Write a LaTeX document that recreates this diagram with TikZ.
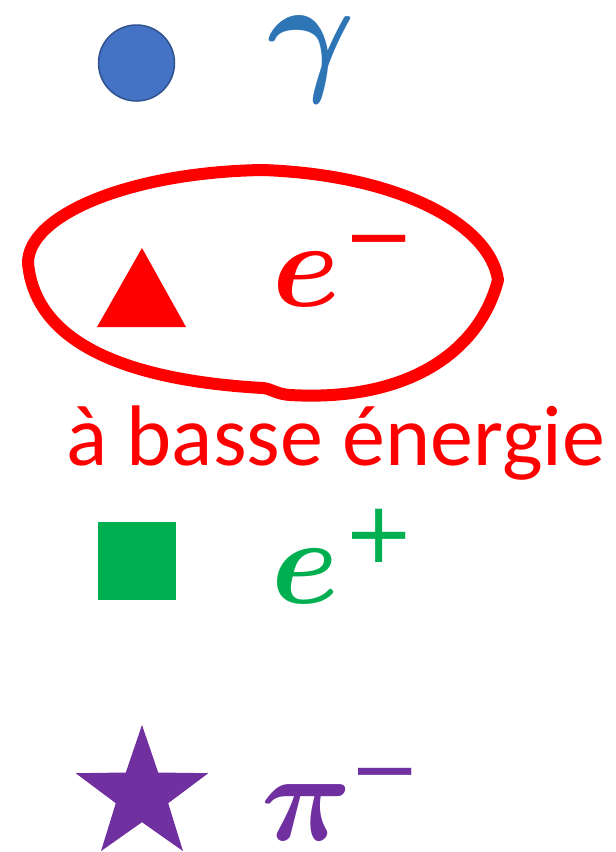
\documentclass[tikz,border=0pt]{standalone}
\usepackage{fontspec}
\setmainfont{Carlito}
\newfontfamily\dvsans{DejaVu Sans}
\DeclareFontFamily{OML}{cmm}{\skewchar\font127}
\DeclareFontShape{OML}{cmm}{m}{it}{<->cmmi12}{}
\DeclareFontShape{OML}{cmm}{b}{it}{<->cmmib10}{}
\definecolor{gblue}{HTML}{2E75B6}
\definecolor{circfill}{HTML}{4472C4}
\definecolor{circline}{HTML}{2F528F}
\definecolor{pgreen}{HTML}{00B050}
\definecolor{ppurple}{HTML}{7030A0}
\tikzset{
  letter/.style={inner sep=6pt, anchor=center},
  signstyle/.style={inner sep=0pt, anchor=base, font=\dvsans\fontsize{85}{85}\selectfont},
  loop/.style={draw=red, line width=12pt, line join=round, line cap=round}
}
\begin{document}
\begin{tikzpicture}[x=1pt,y=-1pt]
\useasboundingbox (0,0) rectangle (616,852);
% gamma
\filldraw[fill=circfill, draw=circline, line width=1.5pt] (136.5,63) circle[radius=38];
\node[letter, text=gblue, font=\fontsize{135}{135}\selectfont\boldmath] (gamma) at (311.5,59.5) {$\gamma$};
% electron
\fill[red] (97,327) -- (186,327) -- (142,248) -- cycle;
\node[letter, text=red, font=\fontsize{122}{122}\selectfont\boldmath] (em) at (306,279) {$e$};
\node[signstyle, text=red] (emsign) at (379.5,265) {−};
\draw[loop] (498,280) .. controls (490,225) and (400,175) .. (263,170)
  .. controls (130,172) and (28,215) .. (28,263)
  .. controls (35,340) and (120,380) .. (263,388)
  .. controls (272,389) and (276,394) .. (290,395)
  .. controls (410,402) and (480,350) .. cycle;
\node[inner sep=0pt, anchor=base west, text=red, font=\fontsize{86}{86}\selectfont] (low) at (66,465) {à basse énergie};
% positron
\fill[pgreen] (98,522) rectangle (176,600);
\node[letter, text=pgreen, font=\fontsize{122}{122}\selectfont\boldmath] (ep) at (305.5,576) {$e$};
\node[signstyle, text=pgreen] (epsign) at (379,562) {+};
% pion
\fill[ppurple] (142,725) -- (158.2,772.5) -- (208.3,773.2) -- (168.2,803.2) -- (183.0,851.1)
  -- (142,822.2) -- (101.0,851.1) -- (115.8,803.2) -- (75.7,773.2) -- (125.8,772.5) -- cycle;
\node[letter, text=ppurple, font=\fontsize{126}{126}\selectfont\boldmath] (pi) at (307,812.5) {$\pi$};
\node[signstyle, text=ppurple] (pisign) at (385.5,798.5) {−};
\end{tikzpicture}
\end{document}
